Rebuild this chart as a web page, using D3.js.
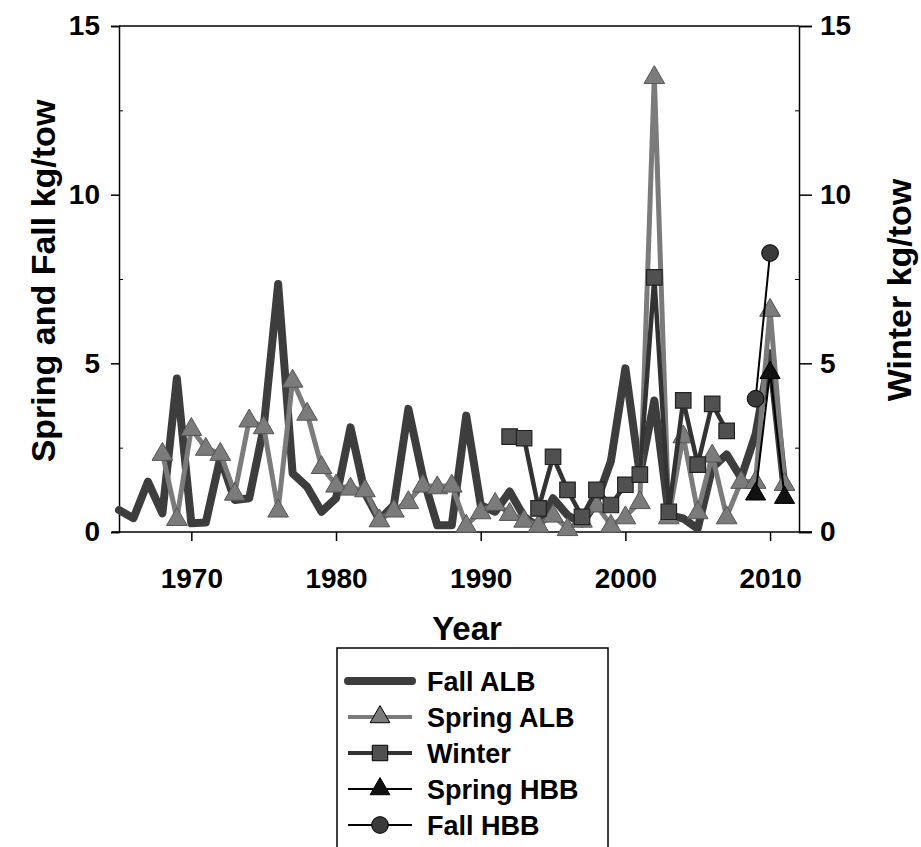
<!DOCTYPE html>
<html>
<head>
<meta charset="utf-8">
<script src="https://cdn.jsdelivr.net/npm/d3@7"></script>
<style>
  html, body { margin: 0; padding: 0; background: #fff; }
  svg { display: block; }
  text { font-family: "Liberation Sans", Arial, sans-serif; font-weight: bold; fill: #000; }
</style>
</head>
<body>
<svg id="chart" width="921" height="847"></svg>
<script>
// ---- Data ----
const fallALBYears = d3.range(1965, 2012);
const fallALB = [0.65, 0.41, 1.49, 0.55, 4.55, 0.26, 0.28, 2.2, 0.95, 1.0,
                 3.1, 7.35, 1.74, 1.34, 0.6, 1.0, 3.1, 1.15, 0.36, 0.8,
                 3.65, 1.64, 0.2, 0.2, 3.45, 0.8, 0.6, 1.2, 0.45, 0.15,
                 1.0, 0.5, 0.25, 0.9, 2.1, 4.85, 1.7, 3.9, 0.5, 0.4,
                 0.1, 1.9, 2.3, 1.6, 2.9, 5.3, 1.3];
const springALBYears = d3.range(1968, 2012);
const springALB = [2.33, 0.4, 3.07, 2.48, 2.33, 1.15, 3.32, 3.12, 0.65, 4.5,
                   3.52, 1.94, 1.39, 1.3, 1.25, 0.36, 0.65, 0.9, 1.39, 1.34,
                   1.39, 0.2, 0.6, 0.85, 0.55, 0.35, 0.2, 0.5, 0.1, 0.35,
                   0.8, 0.2, 0.45, 0.9, 13.5, 0.45, 2.85, 0.6, 2.28, 0.45,
                   1.5, 1.5, 6.6, 1.44];
const winterYears = d3.range(1992, 2008);
const winter = [2.83, 2.78, 0.7, 2.23, 1.25, 0.45, 1.25, 0.8, 1.4, 1.7,
                7.55, 0.6, 3.9, 2.0, 3.8, 3.0];
const springHBBYears = [2009, 2010, 2011];
const springHBB = [1.15, 4.75, 1.05];
const fallHBBYears = [2009, 2010];
const fallHBB = [3.95, 8.27];

const xTicks = [1970, 1980, 1990, 2000, 2010];
const yTicks = [0, 5, 10, 15];
const yMinorTicks = [2.5, 7.5, 12.5];
const legendLabels = ["Fall ALB", "Spring ALB", "Winter", "Spring HBB", "Fall HBB"];

// ---- Layout ----
const svg = d3.select("#chart");
const L = 119, R = 799, T = 26, B = 532;
const x = d3.scaleLinear().domain([1965, 2012]).range([L, R]);
const yL = d3.scaleLinear().domain([0, 15]).range([B, T]);
const yR = d3.scaleLinear().domain([0, 15]).range([B, T]);

const zip = (xs, vs) => xs.map((yr, i) => ({ yr, v: vs[i] }));

// frame top
svg.append("line").attr("x1", L).attr("x2", R).attr("y1", T).attr("y2", T)
  .attr("stroke", "#000").attr("stroke-width", 1.5);

// left axis
const gL = svg.append("g").attr("transform", `translate(${L},0)`)
  .call(d3.axisLeft(yL).tickValues(yTicks).tickSize(8).tickPadding(11).tickFormat(d3.format("d")));
gL.select(".domain").attr("stroke-width", 1.5);
gL.selectAll(".tick line").attr("stroke-width", 1.5);
gL.selectAll(".tick text").style("font-size", "28px");
svg.append("g").attr("transform", `translate(${L},0)`)
  .call(d3.axisRight(yL).tickValues(yMinorTicks).tickSize(4).tickFormat(""))
  .call(g => g.select(".domain").remove());

// right axis
const gR = svg.append("g").attr("transform", `translate(${R},0)`)
  .call(d3.axisRight(yR).tickValues(yTicks).tickSize(13).tickPadding(8).tickFormat(d3.format("d")));
gR.select(".domain").attr("stroke-width", 1.5);
gR.selectAll(".tick line").attr("stroke-width", 1.5);
gR.selectAll(".tick text").style("font-size", "28px");
svg.append("g").attr("transform", `translate(${R},0)`)
  .call(d3.axisLeft(yR).tickValues(yMinorTicks).tickSize(4).tickFormat(""))
  .call(g => g.select(".domain").remove());

// bottom axis
const gB = svg.append("g").attr("transform", `translate(0,${B})`)
  .call(d3.axisBottom(x).tickValues(xTicks).tickSize(9).tickPadding(27).tickFormat(d3.format("d")));
gB.select(".domain").attr("d", `M${L - 7},0H${R + 13}`).attr("stroke-width", 1.5);
gB.selectAll(".tick line").attr("stroke-width", 1.5);
gB.selectAll(".tick text").style("font-size", "28px");

// axis titles
svg.append("text").attr("transform", `translate(55,281) rotate(-90)`)
  .attr("text-anchor", "middle").style("font-size", "34px").text("Spring and Fall kg/tow");
svg.append("text").attr("transform", `translate(911,290) rotate(-90)`)
  .attr("text-anchor", "middle").style("font-size", "34px").text("Winter kg/tow");
svg.append("text").attr("x", 467).attr("y", 640)
  .attr("text-anchor", "middle").style("font-size", "33px").text("Year");

// ---- Series ----
const lineL = d3.line().x(d => x(d.yr)).y(d => yL(d.v));
const lineR = d3.line().x(d => x(d.yr)).y(d => yR(d.v));
const tri = d3.symbol().type(d3.symbolTriangle);
const sq = d3.symbol().type(d3.symbolSquare);
const circ = d3.symbol().type(d3.symbolCircle);

const fallData = zip(fallALBYears, fallALB);
const springData = zip(springALBYears, springALB);
const winterData = zip(winterYears, winter);
const sHBBData = zip(springHBBYears, springHBB);
const fHBBData = zip(fallHBBYears, fallHBB);

// Fall ALB
svg.append("path").datum(fallData).attr("d", lineL)
  .attr("fill", "none").attr("stroke", "#3d3d3d").attr("stroke-width", 8)
  .attr("stroke-linejoin", "round").attr("stroke-linecap", "round");

// Spring ALB
svg.append("path").datum(springData).attr("d", lineL)
  .attr("fill", "none").attr("stroke", "#7b7b7b").attr("stroke-width", 5)
  .attr("stroke-linejoin", "round");
svg.append("g").selectAll("path").data(springData).join("path")
  .attr("transform", d => `translate(${x(d.yr)},${yL(d.v) + 1})`)
  .attr("d", tri.size(185)).attr("fill", "#7b7b7b").attr("stroke", "#555").attr("stroke-width", 1);

// Winter
svg.append("path").datum(winterData).attr("d", lineR)
  .attr("fill", "none").attr("stroke", "#333").attr("stroke-width", 4.5)
  .attr("stroke-linejoin", "round");
svg.append("g").selectAll("path").data(winterData).join("path")
  .attr("transform", d => `translate(${x(d.yr)},${yR(d.v)})`)
  .attr("d", sq.size(240)).attr("fill", "#505050").attr("stroke", "#222").attr("stroke-width", 1.2);

// Spring HBB
svg.append("path").datum(sHBBData).attr("d", lineL)
  .attr("fill", "none").attr("stroke", "#000").attr("stroke-width", 2);
svg.append("g").selectAll("path").data(sHBBData).join("path")
  .attr("transform", d => `translate(${x(d.yr)},${yL(d.v) + 1})`)
  .attr("d", tri.size(175)).attr("fill", "#111").attr("stroke", "#000").attr("stroke-width", 1);

// Fall HBB
svg.append("path").datum(fHBBData).attr("d", lineL)
  .attr("fill", "none").attr("stroke", "#000").attr("stroke-width", 2);
svg.append("g").selectAll("path").data(fHBBData).join("path")
  .attr("transform", d => `translate(${x(d.yr)},${yL(d.v)})`)
  .attr("d", circ.size(220)).attr("fill", "#3a3a3a").attr("stroke", "#000").attr("stroke-width", 1);

// ---- Legend ----
const lg = svg.append("g");
lg.append("rect").attr("x", 337).attr("y", 648).attr("width", 271).attr("height", 220)
  .attr("fill", "#fff").attr("stroke", "#000").attr("stroke-width", 1.5);
const styles = [
  { stroke: "#3d3d3d", w: 8, cap: "round", sym: null },
  { stroke: "#7b7b7b", w: 4, cap: "butt", sym: tri, fill: "#7b7b7b", size: 170 },
  { stroke: "#333", w: 4, cap: "butt", sym: sq, fill: "#505050", size: 240 },
  { stroke: "#000", w: 2, cap: "butt", sym: tri, fill: "#111", size: 170 },
  { stroke: "#000", w: 2, cap: "butt", sym: circ, fill: "#3a3a3a", size: 220 }
];
legendLabels.forEach((lab, i) => {
  const cy = 681 + i * 36;
  const s = styles[i];
  lg.append("line").attr("x1", 348).attr("x2", 412).attr("y1", cy).attr("y2", cy)
    .attr("stroke", s.stroke).attr("stroke-width", s.w).attr("stroke-linecap", s.cap);
  if (s.sym) {
    lg.append("path").attr("transform", `translate(380,${cy})`)
      .attr("d", s.sym.size(s.size)).attr("fill", s.fill).attr("stroke", "#000").attr("stroke-width", 1);
  }
  lg.append("text").attr("x", 427).attr("y", cy + 10).style("font-size", "27px").text(lab);
});
</script>
</body>
</html>
